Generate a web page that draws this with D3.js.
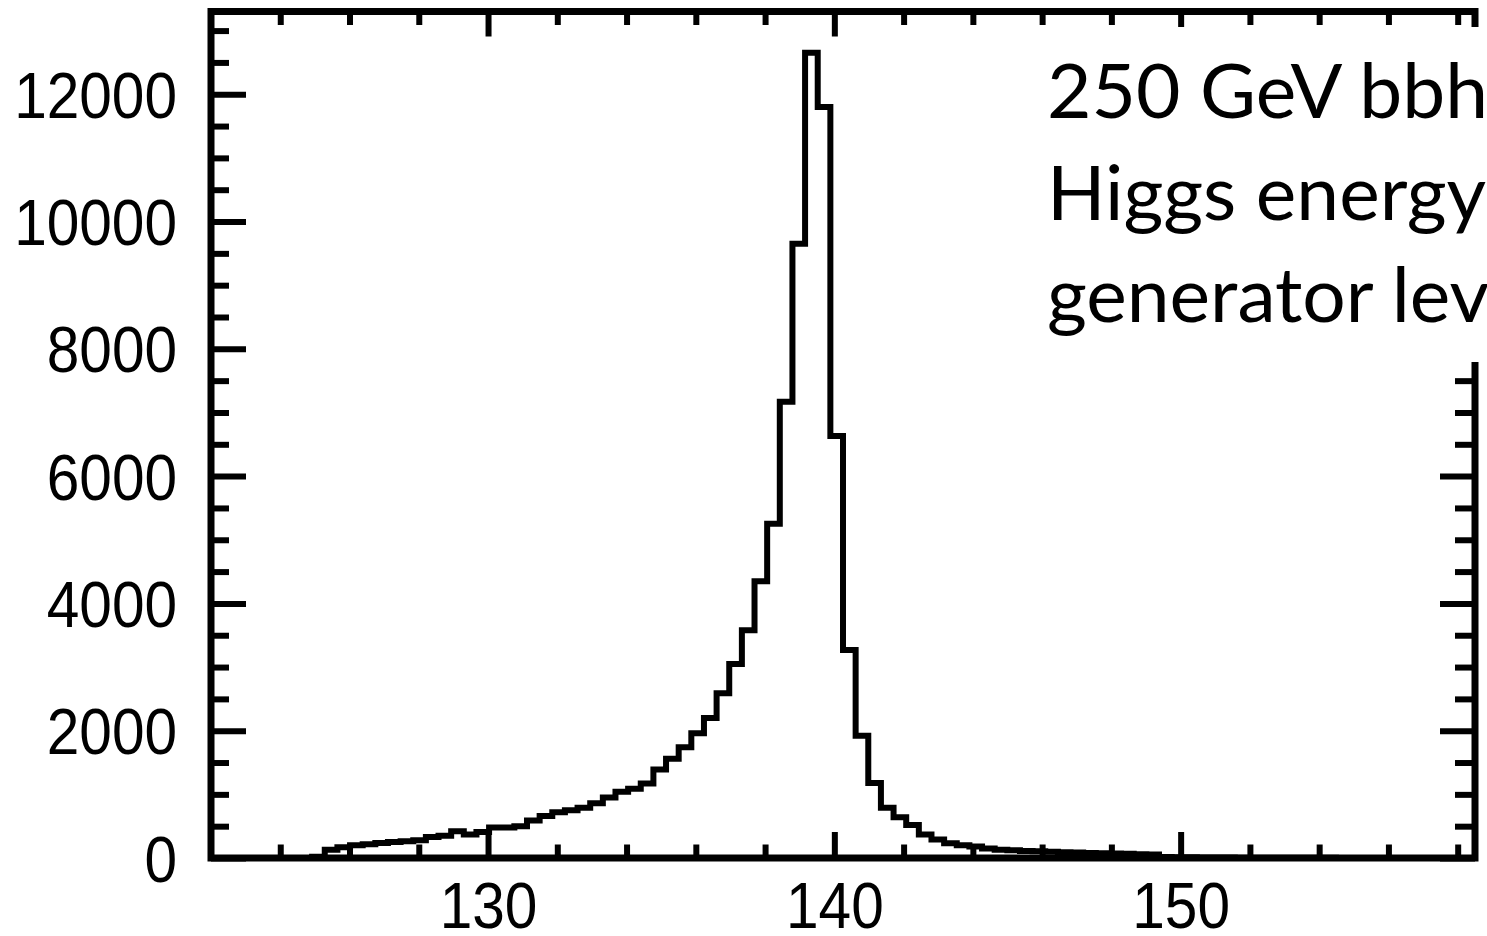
<!DOCTYPE html>
<html>
<head>
<meta charset="utf-8">
<script src="https://cdn.jsdelivr.net/npm/d3@7"></script>
<style>
  html, body { margin: 0; padding: 0; background: #ffffff; }
  svg { display: block; }
</style>
</head>
<body>
<svg id="chart" width="1487" height="936"></svg>
<script>
// ---- data ----
const binStart = 122;
const binWidth = 0.365;
const counts = [
  0, 0, 0, 0, 0, 0, 0, 0, 20, 130,
  170, 200, 215, 235, 250, 265, 280, 330, 350, 420,
  370, 410, 480, 480, 500, 590, 660, 720, 750, 790,
  860, 950, 1040, 1090, 1170, 1390, 1560, 1740, 1960, 2200,
  2590, 3050, 3580, 4350, 5250, 7170, 9650, 12650, 11800, 6630,
  3270, 1920, 1180, 790, 640, 520, 370, 290, 230, 200,
  180, 150, 130, 120, 110, 105, 100, 90, 85, 80,
  75, 70, 65, 60, 55, 15, 12, 10, 8, 7,
  6, 5, 4, 4, 3, 3, 2, 2, 2, 1,
  1, 1, 1, 0, 0, 0, 0, 0, 0, 0
];
const xDomain = [122, 158.5];
const yDomain = [0, 13300];
const xMajorTicks = [130, 140, 150];
const xMinorTicks = [124, 126, 128, 132, 134, 136, 138, 142, 144, 146, 148, 152, 154, 156, 158];
const yMajorTicks = [0, 2000, 4000, 6000, 8000, 10000, 12000];
const yMinorTicks = [500, 1000, 1500, 2500, 3000, 3500, 4500, 5000, 5500, 6500, 7000, 7500,
                     8500, 9000, 9500, 10500, 11000, 11500, 12500, 13000];
const annotationLines = ["250 GeV bbh", "Higgs energy", "generator level"];

// ---- layout ----
const svg = d3.select("#chart");
svg.append("rect").attr("width", 1487).attr("height", 936).attr("fill", "#fff");

const x = d3.scaleLinear().domain(xDomain).range([211, 1475]);
const y = d3.scaleLinear().domain(yDomain).range([858, 11.5]);

// histogram step line
const pts = counts.map((c, i) => [binStart + i * binWidth, c]);
pts.push([binStart + counts.length * binWidth, counts[counts.length - 1]]);
const line = d3.line().x(d => x(d[0])).y(d => y(d[1])).curve(d3.curveStepAfter);
svg.append("path")
  .attr("d", line(pts))
  .attr("fill", "none")
  .attr("stroke", "#000")
  .attr("stroke-width", 6)
  .attr("stroke-linejoin", "miter");

// axes helper
function styleAxis(g, w) {
  g.select(".domain").remove();
  g.selectAll(".tick line").attr("stroke", "#000").attr("stroke-width", w);
}
const labelFont = "'Liberation Sans', Arial, Helvetica, sans-serif";
const sx = 0.915;

// bottom
const gBMinor = svg.append("g").attr("transform", "translate(0,858)")
  .call(d3.axisBottom(x).tickValues(xMinorTicks).tickSize(-13.5).tickFormat(""));
styleAxis(gBMinor, 6);
const gBMajor = svg.append("g").attr("transform", "translate(0,858)")
  .call(d3.axisBottom(x).tickValues(xMajorTicks).tickSize(-26).tickFormat(d3.format("d")));
styleAxis(gBMajor, 6);
gBMajor.selectAll(".tick text")
  .attr("y", 70).attr("dy", 0)
  .attr("transform", `scale(${sx},1)`)
  .attr("fill", "#000")
  .style("font-family", labelFont).style("font-size", "64px");

// top
const gTMinor = svg.append("g").attr("transform", "translate(0,11.5)")
  .call(d3.axisTop(x).tickValues(xMinorTicks).tickSize(-13.5).tickFormat(""));
styleAxis(gTMinor, 6);
const gTMajor = svg.append("g").attr("transform", "translate(0,11.5)")
  .call(d3.axisTop(x).tickValues(xMajorTicks).tickSize(-25).tickFormat(""));
styleAxis(gTMajor, 6);

// left
const gLMinor = svg.append("g").attr("transform", "translate(211,0)")
  .call(d3.axisLeft(y).tickValues(yMinorTicks).tickSize(-18).tickFormat(""));
styleAxis(gLMinor, 6);
const gLMajor = svg.append("g").attr("transform", "translate(211,0)")
  .call(d3.axisLeft(y).tickValues(yMajorTicks).tickSize(-35).tickFormat(d3.format("d")));
styleAxis(gLMajor, 6);
gLMajor.selectAll(".tick text")
  .attr("x", -34 / sx).attr("dy", 23)
  .attr("text-anchor", "end")
  .attr("transform", `scale(${sx},1)`)
  .attr("fill", "#000")
  .style("font-family", labelFont).style("font-size", "64px");

// right
const gRMinor = svg.append("g").attr("transform", "translate(1475,0)")
  .call(d3.axisRight(y).tickValues(yMinorTicks).tickSize(-20).tickFormat(""));
styleAxis(gRMinor, 6);
const gRMajor = svg.append("g").attr("transform", "translate(1475,0)")
  .call(d3.axisRight(y).tickValues(yMajorTicks).tickSize(-35).tickFormat(""));
styleAxis(gRMajor, 6);

// frame
svg.append("rect")
  .attr("x", x(xDomain[0])).attr("y", y(yDomain[1]))
  .attr("width", x(xDomain[1]) - x(xDomain[0]))
  .attr("height", y(yDomain[0]) - y(yDomain[1]))
  .attr("fill", "none").attr("stroke", "#000").attr("stroke-width", 7);

// annotation box (white, covers right part of frame)
svg.append("rect")
  .attr("x", 1032).attr("y", 27).attr("width", 470).attr("height", 335)
  .attr("fill", "#fff");

const ann = svg.append("g");
const baselines = [118, 220, 322];
const texts = ann.selectAll("text").data(annotationLines).join("text")
  .attr("x", 0).attr("y", 0)
  .attr("fill", "#000")
  .style("font-family", "Lato, 'Open Sans', sans-serif")
  .style("font-size", "75.4px")
  .text(d => d);
const w0 = texts.nodes()[0].getComputedTextLength();
const tsx = w0 > 0 ? 441 / w0 : 1;
texts.attr("transform", (d, i) => `translate(1047,${baselines[i]}) scale(${tsx},1)`);
</script>
</body>
</html>
